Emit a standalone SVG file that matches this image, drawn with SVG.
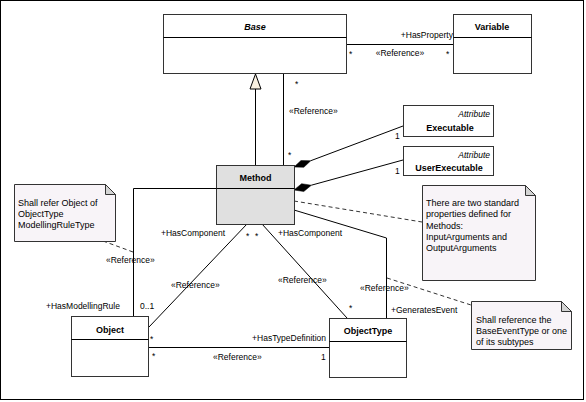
<svg xmlns="http://www.w3.org/2000/svg" width="586" height="402" viewBox="0 0 586 402">
<style>
.box{fill:#fff;stroke:#333;stroke-width:1}
.gray{fill:#e0e0e0;stroke:#333;stroke-width:1}
.note{fill:#f8f4f8;stroke:#333;stroke-width:1}
.fold{fill:#d4d4d4;stroke:#333;stroke-width:1}
.ln{fill:none;stroke:#000;stroke-width:1}
.dash{fill:none;stroke:#333;stroke-width:1;stroke-dasharray:4,3}
.t{font-family:"Liberation Sans",Arial,sans-serif;font-size:8.5px;fill:#000}
.n{font-family:"Liberation Sans",Arial,sans-serif;font-size:9px;fill:#000}
.b{font-family:"Liberation Sans",Arial,sans-serif;font-size:9px;font-weight:bold;fill:#000;text-anchor:middle}
.i{font-family:"Liberation Sans",Arial,sans-serif;font-size:8.5px;font-style:italic;fill:#000;text-anchor:end}
.m{text-anchor:middle}
.e{text-anchor:end}
</style>
<rect x="0.5" y="0.5" width="583" height="399" fill="#fff" stroke="#000" stroke-width="1"/>

<g id="connectors">
  <!-- Base - Variable -->
  <line class="ln" x1="346" y1="44.5" x2="453" y2="44.5"/>
  <text class="t e" x="453" y="38">+HasProperty</text>
  <text class="t m" x="400" y="56">«Reference»</text>
  <text class="t" x="349" y="57">*</text>
  <text class="t" x="446" y="57">*</text>
  <!-- Generalization Method -> Base -->
  <line class="ln" x1="255.5" y1="89" x2="255.5" y2="165"/>
  <polygon points="255.5,74 250,89 261,89" fill="#f8f0e0" stroke="#000" stroke-width="1"/>
  <!-- Reference Method -> Base -->
  <line class="ln" x1="283.5" y1="73" x2="283.5" y2="165"/>
  <text class="t" x="295" y="87">*</text>
  <text class="t" x="289" y="114">«Reference»</text>
  <text class="t" x="288" y="158">*</text>
  <!-- Compositions -->
  <line class="ln" x1="310.8" y1="160.7" x2="403" y2="126"/>
  <polygon points="294,167 301,160.5 310.8,160.7 303.8,167.3" fill="#000" stroke="#000" stroke-width="0.5"/>
  <text class="t" x="395" y="139">1</text>
  <line class="ln" x1="311.4" y1="185.2" x2="403" y2="160"/>
  <polygon points="294,190 301.6,183.7 311.4,185.2 303.8,191.5" fill="#000" stroke="#000" stroke-width="0.5"/>
  <text class="t" x="395" y="174">1</text>
  <!-- note1 dashed -->
  <line class="dash" x1="294" y1="201" x2="422" y2="222"/>
  <!-- GeneratesEvent -->
  <polyline class="ln" points="294,210 386.5,238 386.5,318"/>
  <text class="t" x="360" y="291">«Reference»</text>
  <text class="t" x="391" y="313">+GeneratesEvent</text>
  <line class="dash" x1="387" y1="278" x2="471" y2="305"/>
  <!-- HasModellingRule -->
  <polyline class="ln" points="216,188.5 133.5,188.5 133.5,316"/>
  <text class="t" x="106" y="263">«Reference»</text>
  <text class="t" x="46" y="309">+HasModellingRule</text>
  <text class="t" x="140" y="309">0..1</text>
  <line class="dash" x1="103" y1="241" x2="133" y2="252"/>
  <!-- HasComponent to Object -->
  <line class="ln" x1="247" y1="224" x2="149" y2="327"/>
  <text class="t" x="161" y="236">+HasComponent</text>
  <text class="t" x="246" y="239">*</text>
  <text class="t" x="171" y="288">«Reference»</text>
  <text class="t" x="150" y="342">*</text>
  <!-- HasComponent to ObjectType -->
  <line class="ln" x1="262" y1="224" x2="347" y2="318"/>
  <text class="t" x="255" y="239">*</text>
  <text class="t" x="278" y="236">+HasComponent</text>
  <text class="t" x="278" y="283">«Reference»</text>
  <text class="t" x="349" y="311">*</text>
  <!-- HasTypeDefinition -->
  <line class="ln" x1="148" y1="347.5" x2="329" y2="347.5"/>
  <text class="t e" x="326" y="341">+HasTypeDefinition</text>
  <text class="t" x="213" y="360">«Reference»</text>
  <text class="t" x="321" y="360">1</text>
  <text class="t" x="152" y="359">*</text>
</g>

<g id="Base">
  <rect class="box" x="163.5" y="14.5" width="183" height="59"/>
  <line class="ln" x1="163.5" y1="37.5" x2="346.5" y2="37.5"/>
  <text class="b" x="255" y="30" font-style="italic">Base</text>
</g>
<g id="Variable">
  <rect class="box" x="453.5" y="14.5" width="78" height="59"/>
  <line class="ln" x1="453.5" y1="37.5" x2="531.5" y2="37.5"/>
  <text class="b" x="492" y="30">Variable</text>
</g>
<g id="Method">
  <rect class="gray" x="216.5" y="165.5" width="78" height="59"/>
  <line class="ln" x1="216.5" y1="188.5" x2="294.5" y2="188.5"/>
  <text class="b" x="255.5" y="181">Method</text>
</g>
<g id="Executable">
  <rect class="box" x="403.5" y="105.5" width="90" height="31"/>
  <text class="i" x="490" y="117">Attribute</text>
  <text class="b" x="450" y="131">Executable</text>
</g>
<g id="UserExecutable">
  <rect class="box" x="403.5" y="146.5" width="90" height="29"/>
  <text class="i" x="490" y="158">Attribute</text>
  <text class="b" x="449" y="171">UserExecutable</text>
</g>
<g id="Object">
  <rect class="box" x="71.5" y="316.5" width="77" height="60"/>
  <line class="ln" x1="71.5" y1="339.5" x2="148.5" y2="339.5"/>
  <text class="b" x="110" y="333">Object</text>
</g>
<g id="ObjectType">
  <rect class="box" x="329.5" y="318.5" width="77" height="59"/>
  <line class="ln" x1="329.5" y1="341.5" x2="406.5" y2="341.5"/>
  <text class="b" x="368" y="334">ObjectType</text>
</g>
<g id="NoteMethods">
  <path class="note" d="M422.5,185.5 H525.5 L535.5,195.5 V280.5 H422.5 Z"/>
  <path class="fold" d="M525.5,185.5 V195.5 H535.5 Z"/>
  <text class="n" x="426" y="206">There are two standard</text>
  <text class="n" x="426" y="217">properties defined for</text>
  <text class="n" x="426" y="229">Methods:</text>
  <text class="n" x="426" y="240">InputArguments and</text>
  <text class="n" x="426" y="251">OutputArguments</text>
</g>
<g id="NoteEvent">
  <path class="note" d="M471.5,301.5 H561.5 L571.5,311.5 V349.5 H471.5 Z"/>
  <path class="fold" d="M561.5,301.5 V311.5 H571.5 Z"/>
  <text class="n" x="476" y="323">Shall reference the</text>
  <text class="n" x="476" y="334">BaseEventType or one</text>
  <text class="n" x="476" y="345">of its subtypes</text>
</g>
<g id="NoteRule">
  <path class="note" d="M14.5,184.5 H105.5 L115.5,194.5 V241.5 H14.5 Z"/>
  <path class="fold" d="M105.5,184.5 V194.5 H115.5 Z"/>
  <text class="n" x="18" y="206">Shall refer Object of</text>
  <text class="n" x="18" y="217">ObjectType</text>
  <text class="n" x="18" y="228">ModellingRuleType</text>
</g>
</svg>
